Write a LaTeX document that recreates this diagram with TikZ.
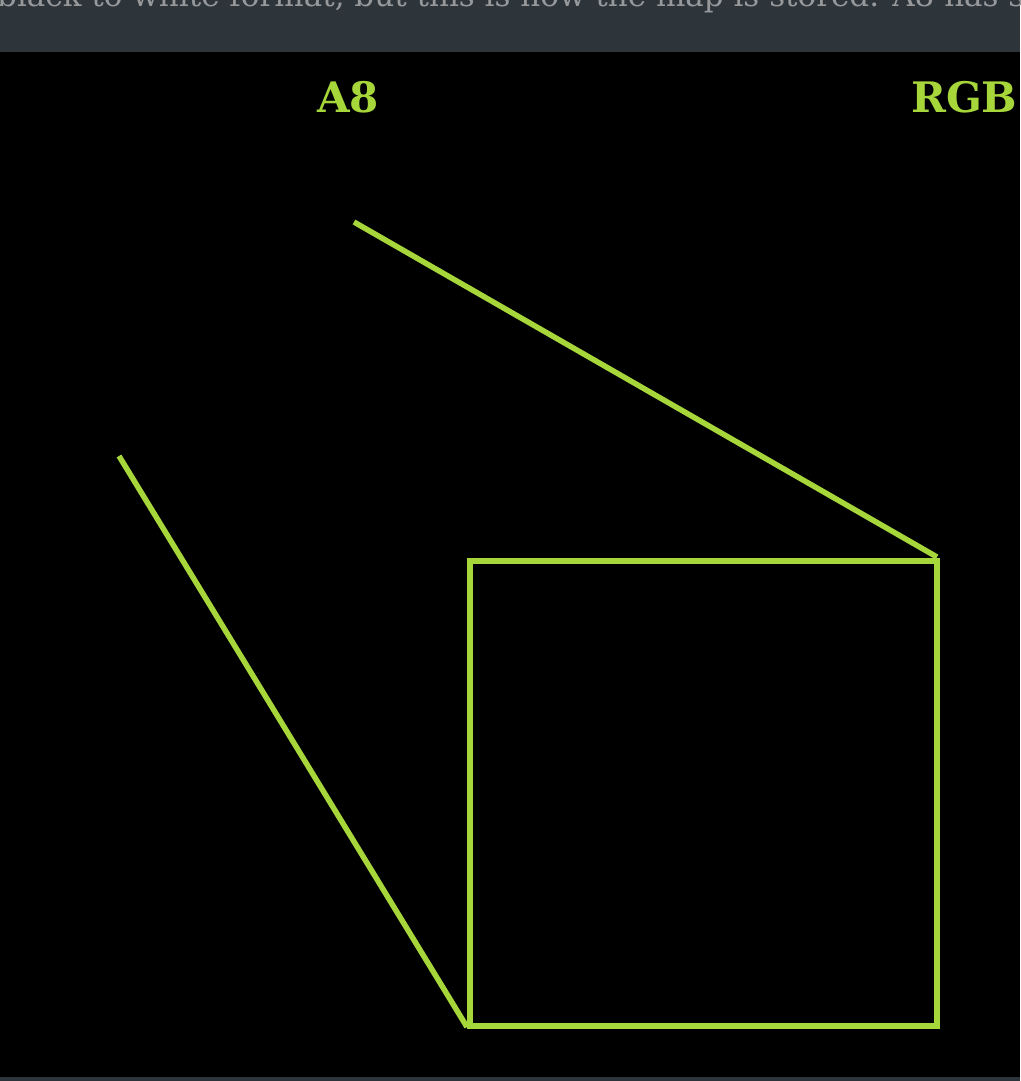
\documentclass[tikz,border=0pt]{standalone}
\usepackage{fontspec}
\newfontfamily\slabfont{DejaVu Serif}
\definecolor{lime}{RGB}{166,214,58}
\definecolor{band}{RGB}{45,52,58}
\definecolor{captext}{RGB}{150,152,154}
\begin{document}
\begin{tikzpicture}[x=1pt,y=-1pt,
  greenline/.style={draw=lime,line width=5.5pt},
  label/.style={text=lime,font=\slabfont\bfseries\fontsize{42}{46}\selectfont,inner sep=0pt},
  captionstyle/.style={text=captext,font=\slabfont\fontsize{31}{33}\selectfont,inner sep=0pt}]
\useasboundingbox (0,0) rectangle (1020,1081);
\fill[band] (0,0) rectangle (1020,52);
\fill[black] (0,52) rectangle (1020,1077);
\fill[band] (0,1077) rectangle (1020,1081);
\begin{scope}
\clip (0,0) rectangle (1020,52);
\node[captionstyle,anchor=base west] (cap) at (-3,7) {black to white format, but this is how the map is stored. A8 has s};
\end{scope}
\begin{scope}
\clip (0,52) rectangle (1020,1077);
\node[label,anchor=base] (a8) at (348,112) {A8};
\node[label,anchor=base west] (rgb) at (911,112) {RGB};
\end{scope}
\coordinate (l1s) at (354,222);
\coordinate (l1e) at (937,557);
\coordinate (l2s) at (119,456);
\coordinate (l2e) at (467,1027);
\coordinate (rtl) at (470,561);
\coordinate (rbr) at (937,1026);
\draw[greenline] (l1s) -- (l1e);
\draw[greenline] (l2s) -- (l2e);
\draw[greenline] (rtl) rectangle (rbr);
\end{tikzpicture}
\end{document}
